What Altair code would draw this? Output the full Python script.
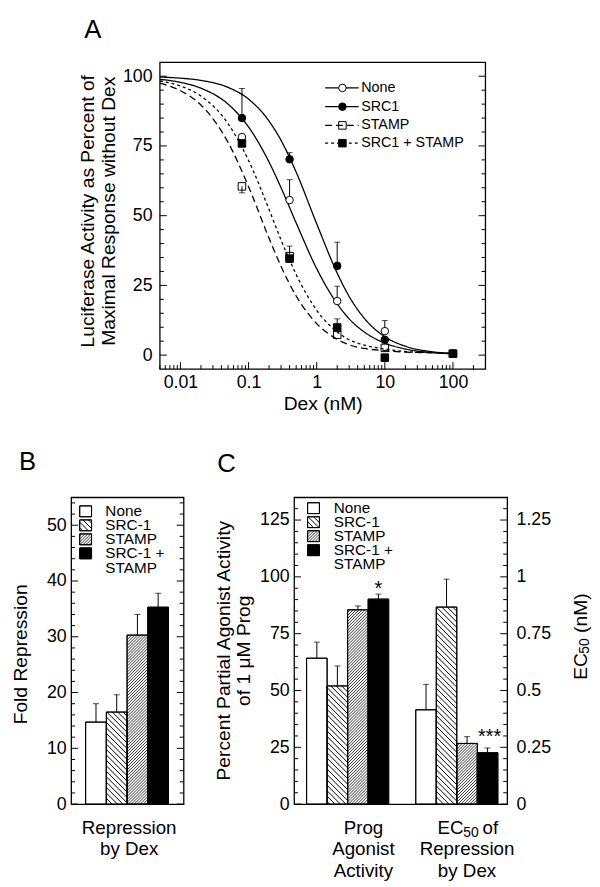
import math
import altair as alt
import pandas as pd

FONT = "Liberation Sans"

# ---------------- Panel A: Dex dose response ----------------
A_SERIES = ["None", "SRC1", "STAMP", "SRC1 + STAMP"]
A_DEX = [0.08, 0.4, 2, 10, 100]
A_NONE = [78.2, 55.6, 19.4, 8.6, 0.5]
A_SRC1 = [85.0, 70.2, 32.0, 5.5, 0.5]
A_STAMP = [60.5, 35.5, 7.3, 2.6, 0.5]
A_BOTH = [75.9, 34.6, 9.9, -0.9, 0.5]
A_NONE_ERR = [None, 62.9, 24.7, 12.4, None]
A_SRC1_ERR = [95.6, 72.6, 40.5, None, None]
A_STAMP_ERR = [58.2, None, None, None, None]
A_BOTH_ERR = [None, 39.1, 13.0, None, None]

# fitted curves
A_FIT_X = [0.005, 0.01, 0.02, 0.05, 0.1, 0.2, 0.3, 0.5, 1, 2, 3, 5, 10, 20, 50, 100]
A_FIT_NONE = [98.9, 97.8, 95.7, 90.0, 81.8, 69.2, 60.0, 47.4, 31.0, 18.4, 13.0, 8.3, 4.3, 2.2, 0.9, 0.5]
A_FIT_SRC1 = [99.7, 99.3, 98.5, 96.0, 91.8, 83.9, 77.0, 65.6, 47.1, 29.4, 21.0, 13.2, 6.6, 3.2, 1.2, 0.6]
A_FIT_STAMP = [97.5, 94.8, 89.7, 76.3, 60.4, 41.9, 31.8, 21.2, 11.3, 5.7, 3.7, 2.4, 1.6, 1.1, 0.8, 0.6]
A_FIT_BOTH = [98.3, 96.5, 92.9, 83.0, 69.8, 52.2, 41.3, 28.9, 16.1, 8.3, 5.5, 3.6, 2.2, 1.3, 0.9, 0.7]

A_YTICK_LABELS = [0, 25, 50, 75, 100]
A_XTICK_LABELS = [0.01, 0.1, 1, 10, 100]
A_YMINOR = [v for v in range(5, 100, 5) if v % 25]
A_XMINOR = [m * 10 ** e for e in range(-3, 3) for m in range(2, 10)
            if 0.005 <= m * 10 ** e <= 200]

# ---------------- Panels B and C ----------------
BC_SERIES = ["None", "SRC-1", "STAMP", "SRC-1 + STAMP"]
BC_LEGEND = ["None", "SRC-1", "STAMP", "SRC-1 +", "STAMP"]
B_FOLD = [14.7, 16.5, 30.3, 35.3]
B_FOLD_ERR = [18.0, 19.6, 34.0, 37.8]
C_AGONIST = [64.2, 52.0, 85.5, 90.2]
C_AGONIST_ERR = [71.3, 60.8, 87.2, 92.4]
C_EC50 = [0.415, 0.867, 0.267, 0.226]
C_EC50_ERR = [0.527, 0.990, 0.297, 0.247]

B_YTICK_LABELS = [0, 10, 20, 30, 40, 50]
C_YTICK_LABELS = [0, 25, 50, 75, 100, 125]
C_Y2TICK_LABELS = [0, 0.25, 0.5, 0.75, 1, 1.25]
B_YMINOR = [v for v in range(2, 55, 2) if v % 10]
C_YMINOR = [v for v in range(5, 135, 5) if v % 25]

# ---------------- layout ----------------
H = 311
A_LEFT = 90                     # panel A plot starts this far right of panel B's plot
WA, WB, WC = 330, 114, 216
TMAJ, TMIN = 7, 4
LABEL_SIZE = 18
TITLE_SIZE = 19.5
XA_DOM = [0.005, 300]
YA_DOM = [-5, 105]
XB_DOM = [-0.70, -0.70 + WB / 21.0]
YB_DOM = [0, 55]
XC_DOM = [-0.61, -0.61 + WC / 20.8]
YC_DOM = [0, 135]
YC2_DOM = [0, 1.35]
C_G2 = 5.32
ORIGIN_X, ORIGIN_Y = 64, 49     # page offset of panel B plot (x) / panel A plot (y), minus body margin

FILLS = ["white", "white", "white", "black"]
HATCH = [None, "back", "fwd", None]
HSTEP = {"back": 5.5, "fwd": 3.0}
HWIDTH = {"back": 1.0, "fwd": 0.8}
LABEL_EXPR = "'' + datum.value"


def px_x(v, dom, w):
    return (v - dom[0]) / (dom[1] - dom[0]) * w


def px_y(v, dom):
    return (dom[1] - v) / (dom[1] - dom[0]) * H


def dx(p, dom, w):
    return dom[0] + p / w * (dom[1] - dom[0])


def dy(p, dom):
    return dom[1] - p / H * (dom[1] - dom[0])


def hatch_segments(x0, x1, y0, y1, kind, step):
    segs = []
    if kind == "back":
        c = math.floor((y0 - x1) / step) * step
        while c <= y1 - x0:
            lo, hi = max(x0, y0 - c), min(x1, y1 - c)
            if hi - lo > 0.4:
                segs.append((lo, lo + c, hi, hi + c))
            c += step
    else:
        c = math.floor((x0 + y0) / step) * step
        while c <= x1 + y1:
            lo, hi = max(x0, c - y1), min(x1, c - y0)
            if hi - lo > 0.4:
                segs.append((lo, c - lo, hi, c - hi))
            c += step
    return segs


def txt(s, x, y, size, align="center", baseline="middle", angle=0):
    mk = dict(font=FONT, fontSize=size, align=align, baseline=baseline, color="black")
    if angle:
        mk["angle"] = angle
    return alt.Chart(pd.DataFrame({"t": [s]})).mark_text(**mk).encode(
        text="t:N", x=alt.value(x), y=alt.value(y))


def yticks(vals, Y, x_edge, length, side):
    x1 = x_edge + length if side == "left" else x_edge - length
    return alt.Chart(pd.DataFrame({"t": vals})).mark_rule(color="black", strokeWidth=1).encode(
        y=Y("t"), x=alt.value(x_edge), x2=alt.value(x1))


def hatch_layer(rects, kind, xdom, ydom, W, X, Y):
    rows = []
    for (x0, x1, y0, y1) in rects:
        for a, b, c, d in hatch_segments(x0, x1, y0, y1, kind, HSTEP[kind]):
            rows.append(dict(hx=dx(a, xdom, W), hy=dy(b, ydom), hx2=dx(c, xdom, W), hy2=dy(d, ydom)))
    return alt.Chart(pd.DataFrame(rows)).mark_rule(color="black", strokeWidth=HWIDTH[kind]).encode(
        x=X("hx"), y=Y("hy"), x2="hx2:Q", y2="hy2:Q")


def bar_layers(lefts, vals, errs, xdom, ydom, W, X, Y):
    d = pd.DataFrame([dict(s=s, x0=l, x1=l + 1, xc=l + 0.5, v=v, b=0.0, e=e)
                      for s, l, v, e in zip(BC_SERIES, lefts, vals, errs)])
    fill = alt.Fill("s:N", scale=alt.Scale(domain=BC_SERIES, range=FILLS), legend=None)
    layers = [alt.Chart(d).mark_rect(stroke="black", strokeWidth=1).encode(
        x=X("x0"), x2="x1:Q", y=Y("v"), y2="b:Q", fill=fill)]
    for kind in ["back", "fwd"]:
        rects = [(px_x(l, xdom, W), px_x(l + 1, xdom, W), px_y(v, ydom), H)
                 for l, v, h in zip(lefts, vals, HATCH) if h == kind]
        layers.append(hatch_layer(rects, kind, xdom, ydom, W, X, Y))
    layers.append(alt.Chart(d).mark_rect(fill="transparent", stroke="black", strokeWidth=1).encode(
        x=X("x0"), x2="x1:Q", y=Y("v"), y2="b:Q"))
    layers.append(alt.Chart(d).mark_rule(color="black", strokeWidth=1).encode(
        x=X("xc"), y=Y("v"), y2="e:Q"))
    layers.append(alt.Chart(d).mark_tick(orient="horizontal", size=6, thickness=1, color="black").encode(
        x=X("xc"), y=Y("e")))
    return layers


def legend_layers(bx, tops, tx, tys, xdom, ydom, W, X, Y, bw=12, bh=11):
    d = pd.DataFrame([dict(s=s, x0=dx(bx, xdom, W), x1=dx(bx + bw, xdom, W),
                           y0=dy(t, ydom), y1=dy(t + bh, ydom)) for s, t in zip(BC_SERIES, tops)])
    fill = alt.Fill("s:N", scale=alt.Scale(domain=BC_SERIES, range=FILLS), legend=None)
    layers = [alt.Chart(d).mark_rect(stroke="black", strokeWidth=1).encode(
        x=X("x0"), x2="x1:Q", y=Y("y0"), y2="y1:Q", fill=fill)]
    for kind in ["back", "fwd"]:
        rects = [(bx, bx + bw, t, t + bh) for t, h in zip(tops, HATCH) if h == kind]
        layers.append(hatch_layer(rects, kind, xdom, ydom, W, X, Y))
    layers.append(alt.Chart(d).mark_rect(fill="transparent", stroke="black", strokeWidth=1).encode(
        x=X("x0"), x2="x1:Q", y=Y("y0"), y2="y1:Q"))
    td = pd.DataFrame({"t": BC_LEGEND, "y": [dy(p, ydom) for p in tys]})
    layers.append(alt.Chart(td).mark_text(font=FONT, fontSize=15.5, align="left", baseline="middle",
                                          color="black").encode(text="t:N", x=alt.value(tx), y=Y("y")))
    return layers


# ======================= Panel A =======================
xA = alt.Scale(type="log", domain=XA_DOM, nice=False, range=[A_LEFT, A_LEFT + WA])
yA = alt.Scale(domain=YA_DOM, nice=False, zero=False)
axAx = alt.Axis(values=A_XTICK_LABELS, labelExpr=LABEL_EXPR, ticks=False, domain=False, labelPadding=5,
                labelFontSize=LABEL_SIZE, labelFlush=False, labelOverlap=False, title="Dex (nM)",
                titleFontSize=TITLE_SIZE, titleY=35, titleBaseline="middle")
axAy = alt.Axis(values=A_YTICK_LABELS, ticks=False, domain=False, labelPadding=8, labelFontSize=LABEL_SIZE,
                labelFlush=False, labelOverlap=False, offset=-A_LEFT,
                title=["Luciferase Activity as Percent of", "Maximal Response without Dex"],
                titleFontSize=TITLE_SIZE, titleLineHeight=21, titleX=-73.5, titleY=150.5,
                titleBaseline="middle")


def XA(f):
    return alt.X(f"{f}:Q", scale=xA, axis=axAx)


def YA(f):
    return alt.Y(f"{f}:Q", scale=yA, axis=axAy)


series_dash = alt.StrokeDash("s:N", scale=alt.Scale(domain=A_SERIES, range=[[1, 0], [1, 0], [7, 4], [3, 3]]),
                             legend=None)
series_shape = alt.Shape("s:N", scale=alt.Scale(domain=A_SERIES, range=["circle", "circle", "square", "square"]),
                         legend=None)
series_fill = alt.Fill("s:N", scale=alt.Scale(domain=A_SERIES, range=["white", "black", "transparent", "black"]),
                       legend=None)

fit_rows, pt_rows, err_rows = [], [], []
for s, fy, py, pe in zip(A_SERIES, [A_FIT_NONE, A_FIT_SRC1, A_FIT_STAMP, A_FIT_BOTH],
                         [A_NONE, A_SRC1, A_STAMP, A_BOTH],
                         [A_NONE_ERR, A_SRC1_ERR, A_STAMP_ERR, A_BOTH_ERR]):
    fit_rows += [dict(s=s, x=x, y=y) for x, y in zip(A_FIT_X, fy)]
    pt_rows += [dict(s=s, x=x, y=y) for x, y in zip(A_DEX, py)]
    err_rows += [dict(s=s, x=x, y=y, e=e) for x, y, e in zip(A_DEX, py, pe) if e is not None]

curves = alt.Chart(pd.DataFrame(fit_rows)).mark_line(color="black", strokeWidth=1.3, interpolate="monotone").encode(
    x=XA("x"), y=YA("y"), strokeDash=series_dash)
errA = alt.Chart(pd.DataFrame(err_rows)).mark_rule(color="black", strokeWidth=1).encode(x=XA("x"), y=YA("y"), y2="e:Q")
capA = alt.Chart(pd.DataFrame(err_rows)).mark_tick(orient="horizontal", size=6, thickness=1, color="black").encode(
    x=XA("x"), y=YA("e"))
ptsA = alt.Chart(pd.DataFrame(pt_rows)).mark_point(filled=True, size=58, stroke="black", strokeWidth=1,
                                                    opacity=1).encode(x=XA("x"), y=YA("y"), shape=series_shape,
                                                                      fill=series_fill)

frameA = alt.Chart(pd.DataFrame({"t": [0]})).mark_rect(fill="transparent", stroke="black", strokeWidth=1.3).encode(
    x=alt.value(A_LEFT), x2=alt.value(A_LEFT + WA), y=alt.value(0), y2=alt.value(H))

tickA = [
    yticks(A_YTICK_LABELS, YA, A_LEFT, TMAJ, "left"), yticks(A_YMINOR, YA, A_LEFT, TMIN, "left"),
    yticks(A_YTICK_LABELS, YA, A_LEFT + WA, TMAJ, "right"), yticks(A_YMINOR, YA, A_LEFT + WA, TMIN, "right"),
    alt.Chart(pd.DataFrame({"t": A_XTICK_LABELS})).mark_rule(color="black", strokeWidth=1).encode(
        x=XA("t"), y=alt.value(H), y2=alt.value(H - TMAJ)),
    alt.Chart(pd.DataFrame({"t": A_XMINOR})).mark_rule(color="black", strokeWidth=1).encode(
        x=XA("t"), y=alt.value(H), y2=alt.value(H - TMIN)),
]

legA = pd.DataFrame({"s": A_SERIES, "y": [dy(p, YA_DOM) for p in [26, 45, 64, 82]]})
legA_lines = alt.Chart(legA).mark_rule(color="black", strokeWidth=1.3).encode(
    y=YA("y"), x=alt.value(A_LEFT + 167.5), x2=alt.value(A_LEFT + 201.5), strokeDash=series_dash)
legA_pts = alt.Chart(legA).mark_point(filled=True, size=58, stroke="black", strokeWidth=1, opacity=1).encode(
    y=YA("y"), x=alt.value(A_LEFT + 185), shape=series_shape, fill=series_fill)
legA_txt = alt.Chart(legA).mark_text(font=FONT, fontSize=14.5, align="left", baseline="middle",
                                     color="black").encode(text="s:N", y=YA("y"), x=alt.value(A_LEFT + 204))

panelA = alt.layer(curves, errA, capA, ptsA, frameA, *tickA, legA_lines, legA_pts, legA_txt,
                   txt("A", 13.4, -25, 26, align="left", baseline="alphabetic")).properties(
    width=A_LEFT + WA, height=H, view=alt.ViewBackground(stroke="transparent"))

# ======================= Panel B =======================
xB = alt.Scale(domain=XB_DOM, nice=False, zero=False)
yB = alt.Scale(domain=YB_DOM, nice=False, zero=False)
axBy = alt.Axis(values=B_YTICK_LABELS, ticks=False, domain=False, labelPadding=5, labelFontSize=LABEL_SIZE,
                labelFlush=False, title="Fold Repression", titleFontSize=TITLE_SIZE, titleX=-51, titleY=158.7,
                titleBaseline="middle")


def XB(f):
    return alt.X(f"{f}:Q", scale=xB, axis=None)


def YB(f):
    return alt.Y(f"{f}:Q", scale=yB, axis=axBy)


panelB = alt.layer(
    *bar_layers([0, 1, 2, 3], B_FOLD, B_FOLD_ERR, XB_DOM, YB_DOM, WB, XB, YB),
    yticks(B_YTICK_LABELS, YB, 0, TMAJ, "left"), yticks(B_YMINOR, YB, 0, TMIN, "left"),
    yticks(B_YTICK_LABELS, YB, WB, TMAJ, "right"), yticks(B_YMINOR, YB, WB, TMIN, "right"),
    *legend_layers(8.7, [8.7, 22.9, 37.1, 51.3], 34.7, [14.2, 28.4, 42.6, 57.0, 71.3],
                   XB_DOM, YB_DOM, WB, XB, YB),
    txt("Repression", 58.8, 335.3, 19),
    txt("by Dex", 58.8, 357, 19),
    txt("B", -52.8, -28, 26, align="left", baseline="alphabetic"),
).properties(width=WB, height=H)

# ======================= Panel C =======================
xC = alt.Scale(domain=XC_DOM, nice=False, zero=False)
yC = alt.Scale(domain=YC_DOM, nice=False, zero=False)
yC2 = alt.Scale(domain=YC2_DOM, nice=False, zero=False)
axCy = alt.Axis(values=C_YTICK_LABELS, ticks=False, domain=False, labelPadding=5, labelFontSize=LABEL_SIZE,
                labelFlush=False, title=["Percent Partial Agonist Activity", "of 1 \u03bcM Prog"],
                titleFontSize=TITLE_SIZE, titleLineHeight=19.5, titleX=-71, titleY=155, titleBaseline="middle")
axCy2 = alt.Axis(orient="right", values=C_Y2TICK_LABELS, labelExpr=LABEL_EXPR, ticks=False, domain=False,
                 labelPadding=9, labelFontSize=LABEL_SIZE, labelFlush=False, title=None)


def XC(f):
    return alt.X(f"{f}:Q", scale=xC, axis=None)


def YC(f):
    return alt.Y(f"{f}:Q", scale=yC, axis=axCy)


def YC2(f):
    return alt.Y(f"{f}:Q", scale=yC2, axis=axCy2)


star1 = alt.Chart(pd.DataFrame({"t": ["*"], "x": [3.5], "y": [C_AGONIST_ERR[3]]})).mark_text(
    font=FONT, fontSize=20, baseline="alphabetic", color="black", dy=1).encode(text="t:N", x=XC("x"), y=YC("y"))
star3 = alt.Chart(pd.DataFrame({"t": ["***"], "x": [C_G2 + 3.6], "y": [C_EC50_ERR[3]]})).mark_text(
    font=FONT, fontSize=20, baseline="alphabetic", color="black", dy=-5).encode(text="t:N", x=XC("x"), y=YC2("y"))

c_left = alt.layer(
    *bar_layers([0, 1, 2, 3], C_AGONIST, C_AGONIST_ERR, XC_DOM, YC_DOM, WC, XC, YC),
    star1,
    yticks(C_YTICK_LABELS, YC, 0, TMAJ, "left"), yticks(C_YMINOR, YC, 0, TMIN, "left"),
    yticks(C_YTICK_LABELS, YC, WC, TMAJ, "right"), yticks(C_YMINOR, YC, WC, TMIN, "right"),
    *legend_layers(13.7, [5.5, 19.7, 33.9, 48.1], 40.3, [11, 25.2, 39.4, 53.6, 67.8],
                   XC_DOM, YC_DOM, WC, XC, YC),
    txt("Prog", 70.3, 335.3, 19), txt("Agonist", 70.3, 357, 19), txt("Activity", 70.3, 379.3, 19),
    txt("EC", 145.5, 335.3, 19, align="left"), txt("50", 171.5, 340.5, 14, align="left"),
    txt("of", 191.0, 335.3, 19, align="left"),
    txt("Repression", 175.3, 357, 19), txt("by Dex", 175.3, 379.3, 19),
    txt("EC", 290.5, 185, TITLE_SIZE, align="left", angle=270),
    txt("50", 294.5, 158.5, 14, align="left", angle=270),
    txt("(nM)", 290.5, 137.5, TITLE_SIZE, align="left", angle=270),
    txt("C", -78, -26, 26, align="left", baseline="alphabetic"),
)

c_right = alt.layer(
    *bar_layers([C_G2 + i for i in range(4)], C_EC50, C_EC50_ERR, XC_DOM, YC2_DOM, WC, XC, YC2),
    star3,
)

panelC = alt.layer(c_left, c_right).resolve_scale(y="independent").properties(width=WC, height=H)

rowBC = alt.hconcat(panelB, panelC, spacing=112, bounds="flush")
chart = alt.vconcat(panelA, rowBC, spacing=130, bounds="flush").properties(
    autosize=alt.AutoSizeParams(type="none"),
    padding={"left": ORIGIN_X, "top": ORIGIN_Y, "right": 592 - ORIGIN_X, "bottom": 879 - ORIGIN_Y},
).configure_view(stroke="black", strokeWidth=1.3).configure_axis(
    grid=False, labelFont=FONT, titleFont=FONT, labelColor="black", titleColor="black",
    titleFontWeight="normal")

chart.save("out.html", embed_options={"renderer": "svg", "actions": False})
